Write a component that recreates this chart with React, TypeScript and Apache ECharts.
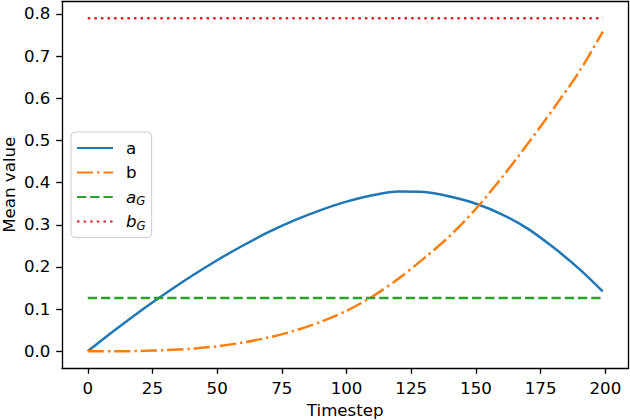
import React, { useEffect, useRef } from "react";
import * as echarts from "echarts";

const timesteps = [0, 10, 20, 30, 40, 50, 60, 70, 80, 90, 100, 110, 120, 130, 140, 150, 160, 170, 180, 190, 199];
const aValues = [0, 0.048, 0.094, 0.137, 0.178, 0.216, 0.251, 0.283, 0.311, 0.335, 0.355, 0.37, 0.379, 0.378, 0.367, 0.35, 0.325, 0.291, 0.246, 0.195, 0.142];
const bValues = [0, 0.0001, 0.0008, 0.003, 0.006, 0.012, 0.021, 0.033, 0.049, 0.07, 0.096, 0.13, 0.172, 0.221, 0.274, 0.338, 0.412, 0.492, 0.576, 0.664, 0.758];
const aGValue = 0.1265;
const bGValue = 0.79;
const xTicks = [0, 25, 50, 75, 100, 125, 150, 175, 200];
const yTicks = [0, 0.1, 0.2, 0.3, 0.4, 0.5, 0.6, 0.7, 0.8];
const seriesNames = ["a", "b", "a_G", "b_G"];
const xLabel = "Timestep";
const yLabel = "Mean value";

const FONT = "DejaVu Sans";
const FS = 16.67;

export default function App() {
  const ref = useRef<HTMLDivElement>(null);
  useEffect(() => {
    if (!ref.current) return;
    const chart = echarts.init(ref.current, undefined, { renderer: "svg" });
    const xMin = timesteps[0];
    const xMax = timesteps[timesteps.length - 1];
    const xPad = (xMax - xMin) * 0.05;
    const yMin = 0;
    const yMax = bGValue;
    const yPad = (yMax - yMin) * 0.05;
    const xRange = { min: xMin - xPad, max: xMax + xPad };
    const yRange = { min: yMin - yPad, max: yMax + yPad };
    const pairs = (vals: number[]) => timesteps.map((t, i) => [t, vals[i]]);
    const flat = (v: number) => [[xMin, v], [xMax, v]];
    const frameLine = { show: true, onZero: false, lineStyle: { color: "#000", width: 1.33 } };
    const common = {
      type: "line",
      showSymbol: false,
      symbol: "none",
      clip: false,
      silent: true,
    };
    chart.setOption({
      animation: false,
      grid: {
        left: 62,
        right: 1.5,
        top: 1.5,
        bottom: 52,
        containLabel: false,
        outerBoundsMode: "none",
      },
      legend: {
        orient: "vertical",
        left: 71,
        top: 132,
        padding: [6, 6, 6, 5],
        itemGap: 4.5,
        itemWidth: 36,
        itemHeight: 14,
        itemStyle: { opacity: 0, borderWidth: 0 },
        backgroundColor: "rgba(255,255,255,0.8)",
        borderColor: "#cccccc",
        borderWidth: 1,
        borderRadius: 4,
        data: seriesNames,
        formatter: (name: string) => {
          if (name === "a_G") return "{i|a}{s|G}";
          if (name === "b_G") return "{i|b}{s|G}";
          return "{n|" + name + "}";
        },
        textStyle: {
          fontFamily: FONT,
          fontSize: FS,
          color: "#000",
          lineHeight: 20,
          padding: [0, 0, 0, 8],
          rich: {
            n: { fontFamily: FONT, fontSize: FS, color: "#000", lineHeight: 20 },
            i: { fontFamily: FONT, fontSize: FS, fontStyle: "italic", color: "#000", lineHeight: 20 },
            s: { fontFamily: FONT, fontSize: 11.7, fontStyle: "italic", color: "#000", lineHeight: 20, padding: [8, 0, 0, 0] },
          },
        },
      },
      xAxis: [
        {
          type: "value",
          ...xRange,
          name: xLabel,
          nameLocation: "middle",
          nameGap: 33.5,
          nameTextStyle: { fontFamily: FONT, fontSize: FS, color: "#000" },
          splitLine: { show: false },
          axisLine: frameLine,
          axisTick: {
            show: true,
            inside: false,
            length: 5.8,
            lineStyle: { color: "#000", width: 1.33 },
            customValues: xTicks,
          },
          axisLabel: {
            fontFamily: FONT,
            fontSize: FS,
            color: "#000",
            margin: 11.6,
            customValues: xTicks,
            formatter: (v: number) => String(v),
          },
        },
        {
          type: "value",
          ...xRange,
          position: "top",
          splitLine: { show: false },
          axisLine: frameLine,
          axisTick: { show: false },
          axisLabel: { show: false },
        },
      ],
      yAxis: [
        {
          type: "value",
          ...yRange,
          name: yLabel,
          nameLocation: "middle",
          nameRotate: 90,
          nameGap: 44,
          nameMoveOverlap: false,
          nameTextStyle: { fontFamily: FONT, fontSize: FS, color: "#000" },
          splitLine: { show: false },
          axisLine: frameLine,
          axisTick: {
            show: true,
            inside: false,
            length: 5.8,
            lineStyle: { color: "#000", width: 1.33 },
            customValues: yTicks,
          },
          axisLabel: {
            fontFamily: FONT,
            fontSize: FS,
            color: "#000",
            margin: 11.6,
            customValues: yTicks,
            formatter: (v: number) => v.toFixed(1),
          },
        },
        {
          type: "value",
          ...yRange,
          position: "right",
          splitLine: { show: false },
          axisLine: frameLine,
          axisTick: { show: false },
          axisLabel: { show: false },
        },
      ],
      series: [
        {
          ...common,
          name: seriesNames[0],
          data: pairs(aValues),
          smooth: 0.3,
          color: "#1f77b4",
          lineStyle: { color: "#1f77b4", width: 2.5, type: "solid" },
        },
        {
          ...common,
          name: seriesNames[1],
          data: pairs(bValues),
          smooth: 0.3,
          color: "#ff7f0e",
          lineStyle: { color: "#ff7f0e", width: 2.5, type: [16, 4, 2.5, 4] },
        },
        {
          ...common,
          name: seriesNames[2],
          data: flat(aGValue),
          color: "#2ca02c",
          lineStyle: { color: "#2ca02c", width: 2.5, type: [9.25, 4] },
        },
        {
          ...common,
          name: seriesNames[3],
          data: flat(bGValue),
          color: "#d62728",
          lineStyle: { color: "#d62728", width: 2.5, type: [2.5, 4.1] },
        },
      ],
    });
    return () => chart.dispose();
  }, []);
  return (
    <div
      ref={ref}
      style={{ position: "absolute", left: 0, top: 0, width: 630, height: 420 }}
    />
  );
}
